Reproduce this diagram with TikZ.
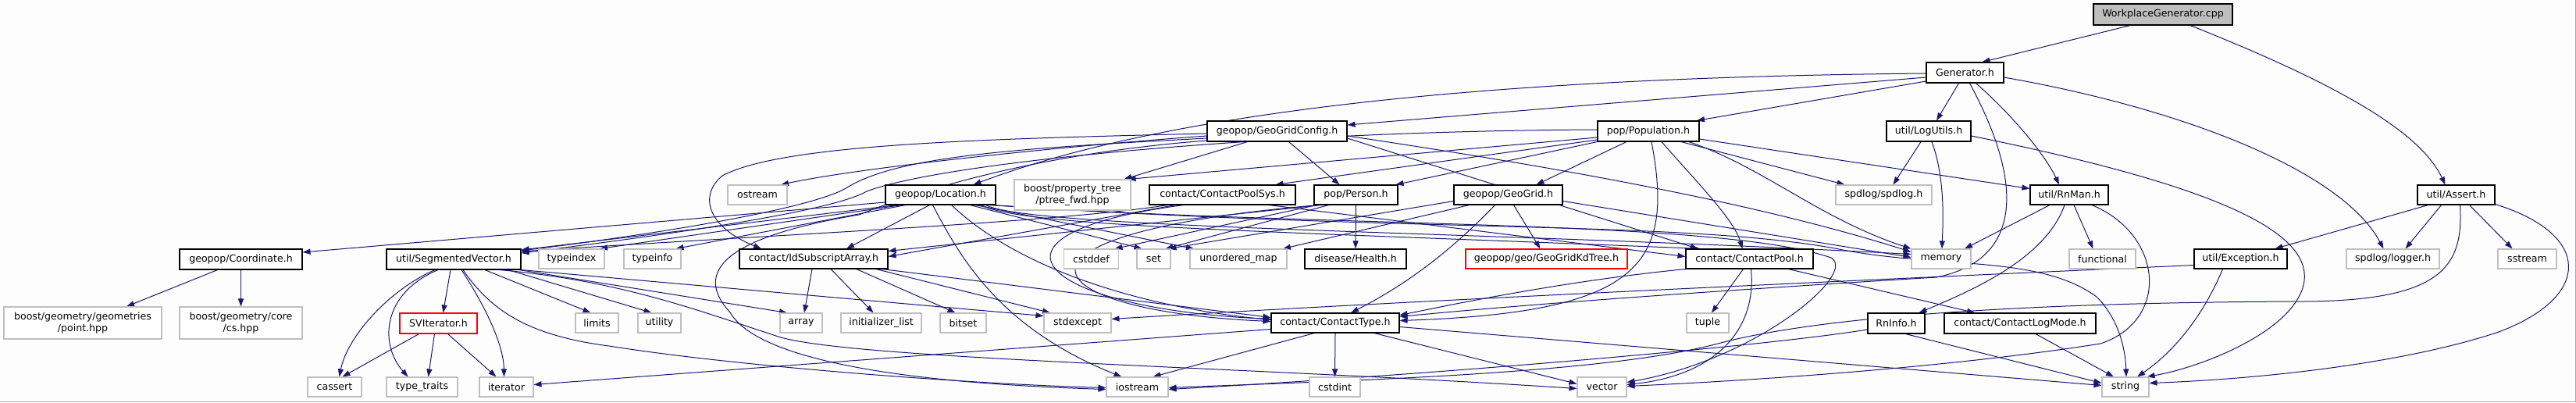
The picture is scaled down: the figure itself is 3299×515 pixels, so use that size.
\documentclass[tikz,border=0pt]{standalone}
\usepackage{fontspec}
\newfontfamily\dvs{DejaVu Sans}
\usetikzlibrary{arrows.meta}
\pgfdeclarelayer{bglayer}
\pgfdeclarelayer{edgelayer}
\pgfsetlayers{bglayer,edgelayer,main}
\definecolor{edgecol}{RGB}{25,25,112}
\definecolor{extgray}{RGB}{191,191,191}
\definecolor{rootfill}{RGB}{191,191,191}
\definecolor{bgcol}{RGB}{252,253,252}
\definecolor{framegray}{RGB}{168,168,168}
\tikzset{
  box/.style={rectangle, inner sep=0pt, font=\dvs\fontsize{12.6}{15.5}\selectfont, fill=white, align=center},
  doc/.style={box, draw=black, line width=1.1pt},
  ext/.style={box, draw=extgray, line width=1.1pt},
  redbox/.style={box, draw=red, line width=1.1pt},
  root/.style={box, draw=black, fill=rootfill, line width=1.1pt},
  conn/.style={draw=edgecol, line width=1pt, -{Triangle[length=10pt,width=7pt]}},
}
\newcommand\mynode[6]{\node[#1, minimum width=#4pt, minimum height=#5pt] (#2) at (#3) {#6};}
\begin{document}
\begin{tikzpicture}[x=1pt,y=-1pt]
\useasboundingbox (0,0) rectangle (3299,515);
\begin{pgfonlayer}{bglayer}
\fill[bgcol] (0,0) rectangle (3299,515);
\draw[framegray, line width=1.3pt] (0,514.3) -- (3298.3,514.3) -- (3298.3,0);
\end{pgfonlayer}
% nodes
\mynode{root}{wpg}{2770,18.5}{178}{27}{WorkplaceGenerator.cpp}
\mynode{doc}{gen}{2516.5,93}{99}{26}{Generator.h}
\mynode{doc}{ggc}{1635.5,168}{179}{26}{geopop/GeoGridConfig.h}
\mynode{doc}{pop}{2111,168}{130}{26}{pop/Population.h}
\mynode{doc}{logu}{2470,168}{108}{26}{util/LogUtils.h}
\mynode{doc}{loc}{1204.5,249.5}{141}{25}{geopop/Location.h}
\mynode{ext}{ostream}{970,249.5}{76}{25}{ostream}
\mynode{ext}{ptree}{1373.5,249.5}{149}{39}{boost/property\_tree\\/ptree\_fwd.hpp}
\mynode{doc}{cps}{1565.5,249.5}{187}{25}{contact/ContactPoolSys.h}
\mynode{doc}{person}{1736.5,249.5}{107}{25}{pop/Person.h}
\mynode{doc}{geogrid}{1931.5,249.5}{139}{25}{geopop/GeoGrid.h}
\mynode{ext}{spdlog}{2412.5,249.5}{123}{25}{spdlog/spdlog.h}
\mynode{doc}{rnman}{2650,249.5}{100}{25}{util/RnMan.h}
\mynode{doc}{assert}{3145.5,249.5}{99}{25}{util/Assert.h}
\mynode{doc}{coord}{308.5,332}{157}{26}{geopop/Coordinate.h}
\mynode{doc}{segv}{581,332}{172}{26}{util/SegmentedVector.h}
\mynode{ext}{typeindex}{732,331.5}{84}{25}{typeindex}
\mynode{ext}{typeinfo}{835.5,331.5}{73}{25}{typeinfo}
\mynode{doc}{idsa}{1042,331.5}{190}{25}{contact/IdSubscriptArray.h}
\mynode{ext}{cstddef}{1397.5,331.5}{70}{25}{cstddef}
\mynode{ext}{set}{1477.5,331.5}{43}{25}{set}
\mynode{ext}{umap}{1586,331.5}{124}{25}{unordered\_map}
\mynode{doc}{health}{1736,331.5}{130}{25}{disease/Health.h}
\mynode{redbox}{kdtree}{1980.5,331.5}{207}{25}{geopop/geo/GeoGridKdTree.h}
\mynode{doc}{cpool}{2240.5,331.5}{163}{25}{contact/ContactPool.h}
\mynode{ext}{memory}{2486,331.5}{76}{25}{memory}
\mynode{ext}{functional}{2692.5,331.5}{85}{25}{functional}
\mynode{doc}{exc}{2869.5,331.5}{119}{25}{util/Exception.h}
\mynode{ext}{logger}{3064.5,331.5}{119}{25}{spdlog/logger.h}
\mynode{ext}{sstream}{3236.5,331.5}{75}{25}{sstream}
\mynode{ext}{bpoint}{106,413.5}{202}{41}{boost/geometry/geometries\\/point.hpp}
\mynode{ext}{bcs}{308.5,413.5}{157}{41}{boost/geometry/core\\/cs.hpp}
\mynode{redbox}{sviter}{561.5,414}{99}{26}{SVIterator.h}
\mynode{ext}{limits}{764.5,413.5}{55}{25}{limits}
\mynode{ext}{utility}{844.5,413.5}{55}{25}{utility}
\mynode{ext}{array}{1026,413.5}{54}{25}{array}
\mynode{ext}{initlist}{1128.5,413.5}{103}{25}{initializer\_list}
\mynode{ext}{bitset}{1233.5,413.5}{59}{25}{bitset}
\mynode{ext}{stdexcept}{1380,413.5}{86}{25}{stdexcept}
\mynode{doc}{ctype}{1710,413.5}{164}{25}{contact/ContactType.h}
\mynode{ext}{tuple}{2187,413.5}{54}{25}{tuple}
\mynode{doc}{rninfo}{2428.5,414}{73}{26}{RnInfo.h}
\mynode{doc}{clm}{2587,414}{194}{26}{contact/ContactLogMode.h}
\mynode{ext}{cassert}{428.5,495.5}{69}{25}{cassert}
\mynode{ext}{typetraits}{540.5,495.5}{91}{25}{type\_traits}
\mynode{ext}{iterator}{648.5,495.5}{69}{25}{iterator}
\mynode{ext}{iostream}{1456.5,495.5}{79}{25}{iostream}
\mynode{ext}{cstdint}{1709.5,495.5}{65}{25}{cstdint}
\mynode{ext}{vector}{2051.5,495.5}{63}{25}{vector}
\mynode{ext}{string}{2722,495.5}{60}{25}{string}
\begin{pgfonlayer}{edgelayer}
% WorkplaceGenerator.cpp
\draw[conn] ([xshift=-42pt]wpg.south) -- ([xshift=22pt]gen.north);
\draw[conn] ([xshift=35pt]wpg.south) .. controls (3000,110) and (3100,170) .. ([xshift=-14pt]assert.north);
% Generator.h
\draw[conn] ([yshift=-6pt]gen.west) -- ([yshift=8pt]ggc.east);
\draw[conn] ([yshift=-1pt]gen.west) .. controls (1800,100) and (1450,160) .. ([xshift=42pt]loc.north);
\draw[conn] ([yshift=-11pt]gen.west) -- ([xshift=62pt]pop.north);
\draw[conn] ([xshift=-8pt]gen.south) -- ([xshift=10pt]logu.north);
\draw[conn] ([xshift=14pt]gen.south) .. controls (2580,150) and (2620,200) .. ([xshift=-13pt]rnman.north);
\draw[conn] ([yshift=-6pt]gen.east) .. controls (2800,140) and (3000,220) .. ([xshift=-12pt]logger.north);
\draw[conn] ([xshift=6pt]gen.south) .. controls (2600,250) and (2580,335) .. (2480,355) .. controls (2200,372) and (1950,390) .. ([yshift=8pt]ctype.east);
% GeoGridConfig.h
\draw[conn] ([yshift=-6pt]ggc.west) .. controls (1350,188) and (1100,215) .. ([xshift=30pt]ostream.north);
\draw[conn] ([yshift=-3pt]ggc.west) .. controls (1250,178) and (1000,185) .. (925,225) .. controls (895,250) and (905,290) .. ([xshift=-67pt]idsa.north);
\draw[conn] ([yshift=-9pt]ggc.west) .. controls (1300,190) and (1150,200) .. (1085,240) .. controls (1050,262) and (900,292) .. ([yshift=11pt]segv.east);
\draw[conn] ([yshift=-12pt]ggc.west) .. controls (1350,195) and (1200,235) .. (1100,275) .. controls (950,300) and (880,340) .. (935,400) .. controls (970,460) and (1150,490) .. ([yshift=-3pt]iostream.west);
\draw[conn] ([xshift=-38pt]ggc.south) -- ([xshift=66pt]ptree.north);
\draw[conn] ([xshift=15pt]ggc.south) -- ([xshift=-21pt]person.north);
\draw[conn] ([yshift=-9pt]ggc.east) -- ([xshift=-66pt]cpool.north);
\draw[conn] ([yshift=-6pt]ggc.east) .. controls (2000,215) and (2250,260) .. ([yshift=9pt]memory.west);
% Population.h
\draw[conn] ([yshift=-8pt]pop.west) -- ([xshift=-4pt]ptree.north east);
\draw[conn] ([yshift=-11pt]pop.west) -- ([xshift=68pt]cps.north);
\draw[conn] (pop.south west) -- ([xshift=-3pt]person.north east);
\draw[conn] ([xshift=-28pt]pop.south) -- ([xshift=36pt]geogrid.north);
\draw[conn] ([xshift=42pt]pop.south) -- ([xshift=-50pt]spdlog.north);
\draw[conn] ([xshift=52pt]pop.south) .. controls (2260,215) and (2330,280) .. (memory.north west);
\draw[conn] ([yshift=-10pt]pop.east) -- ([yshift=8pt]rnman.west);
\draw[conn] ([xshift=17pt]pop.south) .. controls (2170,230) and (2220,280) .. ([xshift=-9pt]cpool.north);
\draw[conn] ([xshift=4pt]pop.south) .. controls (2145,340) and (2100,400) .. ([yshift=3pt]ctype.east);
\draw[conn] ([yshift=2pt]pop.west) .. controls (1600,168) and (1200,210) .. (1110,245) .. controls (1070,268) and (900,295) .. ([yshift=8pt]segv.east);
% LogUtils.h
\draw[conn] ([xshift=-10pt]logu.south) -- ([xshift=12pt]spdlog.north);
\draw[conn] ([xshift=4pt]logu.south) .. controls (2492,230) and (2488,290) .. ([xshift=1pt]memory.north);
\draw[conn] ([yshift=-6pt]logu.east) .. controls (2850,240) and (2965,300) .. (2950,365) .. controls (2935,425) and (2820,470) .. ([xshift=-3pt]string.north east);
% RnMan.h
\draw[conn] ([xshift=-25pt]rnman.south) -- ([xshift=30pt]memory.north);
\draw[conn] ([xshift=-6pt]rnman.south) .. controls (2620,330) and (2530,370) .. ([xshift=-8pt]rninfo.north east);
\draw[conn] ([xshift=6pt]rnman.south) -- ([xshift=-12pt]functional.north);
\draw[conn] ([xshift=29pt]rnman.south) .. controls (2770,300) and (2780,410) .. (2690,440) .. controls (2500,470) and (2250,487) .. ([yshift=1pt]vector.east);
% Assert.h
\draw[conn] ([xshift=-36pt]assert.south) -- ([xshift=44pt]exc.north);
\draw[conn] ([xshift=-19pt]assert.south) -- ([xshift=16pt]logger.north);
\draw[conn] ([xshift=17pt]assert.south) -- ([xshift=-19pt]sstream.north);
\draw[conn] ([yshift=-12pt]assert.east) .. controls (3320,300) and (3320,380) .. (3200,425) .. controls (3080,465) and (2900,485) .. ([yshift=5pt]string.east);
\draw[conn] ([xshift=5pt]assert.south) .. controls (3155,340) and (3130,385) .. (2950,386) .. controls (2600,387) and (2330,405) .. (2200,440) .. controls (2050,480) and (1700,488) .. ([yshift=-1pt]iostream.east);
% Exception.h
\draw[conn] ([xshift=-23pt]exc.south) .. controls (2815,420) and (2770,460) .. ([xshift=15pt]string.north);
\draw[conn] ([yshift=-8pt]exc.west) .. controls (2400,358) and (1800,385) .. ([yshift=5pt]stdexcept.east);
% ContactLogMode.h, RnInfo.h
\draw[conn] ([xshift=20pt]clm.south) -- ([xshift=-15pt]string.north);
\draw[conn] ([xshift=12pt]rninfo.south) -- ([yshift=5pt]string.west);
\draw[conn] ([yshift=-8pt]rninfo.west) .. controls (2250,445) and (1800,482) .. ([yshift=-3pt]iostream.east);
% ContactPool.h
\draw[conn] ([xshift=-8pt]cpool.south) -- ([xshift=5pt]tuple.north);
\draw[conn] ([xshift=50pt]cpool.south) -- ([xshift=-58pt]clm.north);
\draw[conn] ([xshift=2pt]cpool.south) .. controls (2250,420) and (2200,480) .. ([yshift=3pt]vector.east);
\draw[conn] (cpool.south west) .. controls (2000,360) and (1850,392) .. ([yshift=10pt]ctype.east);
% ContactType.h
\draw[conn] (ctype.south) -- (cstdint.north);
\draw[conn] ([xshift=-27pt]ctype.south) -- ([xshift=20pt]iostream.north);
\draw[conn] ([yshift=-8pt]ctype.west) -- ([yshift=3pt]iterator.east);
\draw[conn] ([xshift=50pt]ctype.south) -- ([yshift=4pt]vector.west);
\draw[conn] ([yshift=-5pt]ctype.east) -- ([yshift=2pt]string.west);
% IdSubscriptArray.h
\draw[conn] ([xshift=-2pt]idsa.south) -- ([xshift=4pt]array.north);
\draw[conn] ([xshift=22pt]idsa.south) -- ([xshift=-10pt]initlist.north);
\draw[conn] ([xshift=55pt]idsa.south) -- ([xshift=-10pt]bitset.north);
\draw[conn] ([xshift=80pt]idsa.south) -- ([xshift=-35pt]stdexcept.north);
\draw[conn] ([xshift=88pt]idsa.south) -- ([yshift=7pt]ctype.west);
% SegmentedVector.h
\draw[conn] ([xshift=-4pt]segv.south) -- ([xshift=6pt]sviter.north);
\draw[conn] ([xshift=-24pt]segv.south) .. controls (500,370) and (445,430) .. ([xshift=6pt]cassert.north);
\draw[conn] ([xshift=-20pt]segv.south) .. controls (490,375) and (485,440) .. ([xshift=-18pt]typetraits.north);
\draw[conn] ([xshift=10pt]segv.south) .. controls (620,390) and (645,440) .. ([xshift=-3pt]iterator.north);
\draw[conn] ([xshift=40pt]segv.south) -- ([xshift=-8pt]limits.north);
\draw[conn] ([xshift=70pt]segv.south) -- ([xshift=-10pt]utility.north);
\draw[conn] ([xshift=84pt]segv.south) -- ([xshift=-18pt]array.north);
\draw[conn] (segv.south east) -- ([yshift=9pt]stdexcept.west);
\draw[conn] ([xshift=12pt]segv.south) .. controls (630,400) and (680,430) .. (780,443) .. controls (950,470) and (1250,492) .. ([yshift=-1pt]iostream.west);
\draw[conn] ([xshift=59pt]segv.south) .. controls (800,360) and (900,400) .. (1000,432) .. controls (1100,460) and (1600,470) .. ([yshift=-2pt]vector.west);
% SVIterator.h
\draw[conn] ([xshift=-25pt]sviter.south) -- ([xshift=10pt]cassert.north);
\draw[conn] ([xshift=-5pt]sviter.south) -- ([xshift=8pt]typetraits.north);
\draw[conn] ([xshift=12pt]sviter.south) -- ([xshift=-13pt]iterator.north);
% Coordinate.h
\draw[conn] ([xshift=-30pt]coord.south) -- ([xshift=56pt]bpoint.north);
\draw[conn] (coord.south) -- (bcs.north);
% Location.h
\draw[conn] ([yshift=-9.5pt]loc.west) -- ([yshift=9pt]coord.east);
\draw[conn] ([xshift=-55pt]loc.south) -- ([yshift=12pt]segv.east);
\draw[conn] ([xshift=-50pt]loc.south) -- ([xshift=36pt]typeindex.north);
\draw[conn] ([xshift=-45pt]loc.south) -- ([xshift=30pt]typeinfo.north);
\draw[conn] ([xshift=-14pt]loc.south) -- ([xshift=42pt]idsa.north);
\draw[conn] ([xshift=38pt]loc.south) -- ([xshift=-15pt]set.north);
\draw[conn] ([xshift=45pt]loc.south) -- ([xshift=-57pt]umap.north);
\draw[conn] ([xshift=14pt]loc.south) .. controls (1300,340) and (1450,392) .. ([yshift=4pt]ctype.west);
\draw[conn] ([xshift=-10pt]loc.south) .. controls (1230,330) and (1280,420) .. ([xshift=-20pt]iostream.north);
\draw[conn] ([xshift=52pt]loc.south) .. controls (1310,290) and (1600,295) .. ([xshift=-63pt]cpool.north);
\draw[conn] ([xshift=58pt]loc.south) .. controls (1320,293) and (1900,296) .. ([yshift=6pt]memory.west);
\draw[conn] ([xshift=64pt]loc.south) .. controls (1700,292) and (2200,280) .. (2345,330) .. controls (2380,350) and (2250,460) .. ([yshift=6pt]vector.east);
\draw[conn] ([xshift=66pt]loc.south) .. controls (1800,298) and (2150,282) .. (2350,318) .. controls (2480,345) and (2610,325) .. (2685,380) .. controls (2715,410) and (2722,450) .. ([xshift=1pt]string.north);
% ContactPoolSys.h
\draw[conn] ([xshift=-70pt]cps.south) .. controls (1350,285) and (1000,300) .. ([yshift=10pt]segv.east);
\draw[conn] ([xshift=-60pt]cps.south) -- ([yshift=3pt]idsa.east);
\draw[conn] ([xshift=-50pt]cps.south) .. controls (1230,300) and (1330,395) .. ([yshift=5pt]ctype.west);
\draw[conn] ([xshift=60pt]cps.south) -- ([yshift=3pt]cpool.west);
% Person.h
\draw[conn] (person.south) -- (health.north);
\draw[conn] ([xshift=-45pt]person.south) -- ([yshift=10pt]idsa.east);
\draw[conn] ([xshift=-48pt]person.south) .. controls (1250,300) and (1320,398) .. ([yshift=2pt]ctype.west);
\draw[conn] ([xshift=-50pt]person.south) -- ([xshift=30pt]cstddef.north);
\draw[conn] ([xshift=-35pt]person.south) -- ([xshift=15pt]set.north);
% GeoGrid.h
\draw[conn] ([xshift=7pt]geogrid.south) -- ([xshift=-8pt]kdtree.north);
\draw[conn] ([xshift=-17pt]geogrid.south) .. controls (1850,330) and (1790,370) .. ([xshift=20pt]ctype.north);
\draw[conn] ([xshift=-50pt]geogrid.south) -- ([xshift=57pt]umap.north);
\draw[conn] ([yshift=-8pt]geogrid.west) -- ([xshift=19pt]set.north);
\draw[conn] ([yshift=-8pt]geogrid.east) -- ([yshift=2pt]memory.west);
\end{pgfonlayer}
\end{tikzpicture}
\end{document}
